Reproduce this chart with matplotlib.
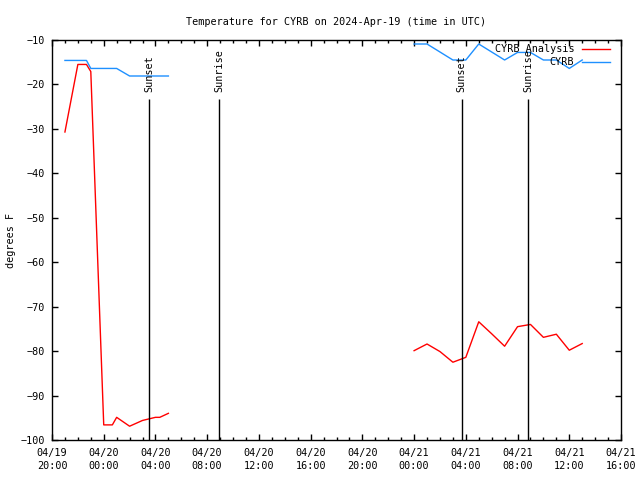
import numpy as np
import pandas as pd
import matplotlib
matplotlib.use('Agg')
import matplotlib.pyplot as plt
import matplotlib.dates as mdates
from matplotlib.lines import Line2D

# analysis temperatures (deg F), gap marked by NaN
analysis_times = ['2024-04-19 21:00', '2024-04-19 22:00', '2024-04-19 22:40', '2024-04-19 23:00',
                  '2024-04-20 00:00', '2024-04-20 00:40', '2024-04-20 01:00', '2024-04-20 02:00',
                  '2024-04-20 03:00', '2024-04-20 04:00', '2024-04-20 04:20', '2024-04-20 05:00',
                  '2024-04-20 12:00',
                  '2024-04-21 00:00', '2024-04-21 01:00', '2024-04-21 02:00', '2024-04-21 03:00',
                  '2024-04-21 04:00', '2024-04-21 05:00', '2024-04-21 06:00', '2024-04-21 07:00',
                  '2024-04-21 08:00', '2024-04-21 09:00', '2024-04-21 10:00', '2024-04-21 11:00',
                  '2024-04-21 12:00', '2024-04-21 13:00']
analysis_temp = [-30.7, -15.5, -15.5, -17.1,
                 -96.6, -96.6, -94.9, -96.9,
                 -95.6, -94.9, -94.9, -94.0,
                 np.nan,
                 -79.9, -78.4, -80.1, -82.5,
                 -81.4, -73.4, -76.1, -78.9,
                 -74.5, -74.0, -76.9, -76.2,
                 -79.8, -78.3]

# station observations (deg F)
obs_times = ['2024-04-19 21:00', '2024-04-19 22:00', '2024-04-19 22:40', '2024-04-19 23:00',
             '2024-04-20 00:00', '2024-04-20 01:00', '2024-04-20 02:00', '2024-04-20 03:00',
             '2024-04-20 04:00', '2024-04-20 05:00',
             '2024-04-20 12:00',
             '2024-04-21 00:00', '2024-04-21 01:00', '2024-04-21 02:00', '2024-04-21 03:00',
             '2024-04-21 04:00', '2024-04-21 05:00', '2024-04-21 06:00', '2024-04-21 07:00',
             '2024-04-21 08:00', '2024-04-21 09:00', '2024-04-21 10:00', '2024-04-21 11:00',
             '2024-04-21 12:00', '2024-04-21 13:00']
obs_temp = [-14.6, -14.6, -14.6, -16.4,
            -16.4, -16.4, -18.1, -18.1,
            -18.1, -18.1,
            np.nan,
            -10.9, -10.9, -12.7, -14.5,
            -14.5, -10.9, -12.7, -14.5,
            -12.8, -12.8, -14.5, -14.5,
            -16.4, -14.5]

sun_times = ['2024-04-20 03:31', '2024-04-20 08:56', '2024-04-21 03:41', '2024-04-21 08:50']
sun_labels = ['Sunset', 'Sunrise', 'Sunset', 'Sunrise']

font = 'DejaVu Sans Mono'
fs = 7.3
plt.rcParams['font.family'] = font

fig = plt.figure(figsize=(6.4, 4.8), dpi=100)
ax = fig.add_axes([52 / 640, 40 / 480, 569 / 640, 400 / 480])

ta = pd.to_datetime(analysis_times)
to = pd.to_datetime(obs_times)
ax.plot(ta, analysis_temp, color='#ff0000', lw=1.0)
ax.plot(to, obs_temp, color='#1e90ff', lw=1.0)

for t, lab in zip(pd.to_datetime(sun_times), sun_labels):
    ax.vlines(t, -100, -23.3, color='black', lw=1.0)
    ax.text(t, -21.6, lab, rotation=90, ha='center', va='bottom', fontsize=fs)

# legend, gnuplot style (text right aligned, sample line to the right)
ax.text(0.918, 0.977, 'CYRB Analysis', transform=ax.transAxes, ha='right', va='center', fontsize=fs)
ax.add_line(Line2D([0.931, 0.981], [0.977, 0.977], transform=ax.transAxes, color='#ff0000', lw=1.0))
ax.text(0.918, 0.945, 'CYRB', transform=ax.transAxes, ha='right', va='center', fontsize=fs)
ax.add_line(Line2D([0.931, 0.981], [0.945, 0.945], transform=ax.transAxes, color='#1e90ff', lw=1.0))

ax.set_xlim(pd.Timestamp('2024-04-19 20:00'), pd.Timestamp('2024-04-21 16:00'))
ax.set_ylim(-100, -10)
ax.set_yticks(np.arange(-100, -9, 10))
ax.xaxis.set_major_locator(mdates.HourLocator(byhour=range(0, 24, 4)))
ax.xaxis.set_minor_locator(mdates.HourLocator())
ax.xaxis.set_major_formatter(mdates.DateFormatter('%m/%d\n%H:%M'))

ax.tick_params(axis='both', which='major', direction='in', length=4, width=1,
               top=True, right=True, labelsize=fs, pad=5)
ax.tick_params(axis='x', which='minor', direction='in', length=2, width=1, top=True)
ax.tick_params(axis='x', which='major', pad=6)
for lbl in ax.get_xticklabels():
    lbl.set_linespacing(1.35)
for sp in ax.spines.values():
    sp.set_linewidth(1.0)
    sp.set_color('black')

ax.set_title('Temperature for CYRB on 2024-Apr-19 (time in UTC)', fontsize=fs, pad=11)
ax.set_ylabel('degrees F', fontsize=fs)
ax.yaxis.set_label_coords(-0.063, 0.5)

fig.savefig('out.png', dpi=100)
